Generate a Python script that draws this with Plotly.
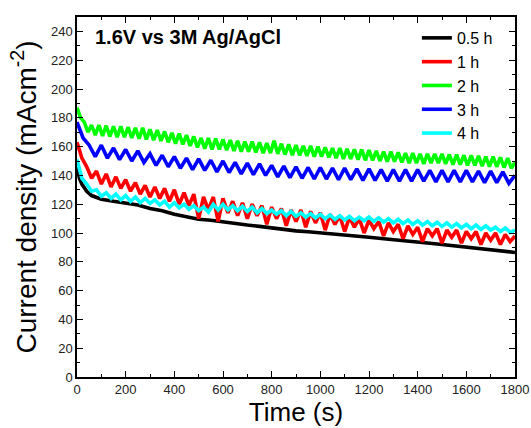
import plotly.graph_objects as go

# ---- data (time in s, current density in mA cm^-2) ----
t_black = [0, 10, 20, 40, 60, 80, 100, 150, 200, 250, 300, 350, 400, 450, 500, 550, 600,
           650, 700, 750, 800, 850, 900, 950, 1000, 1050, 1100, 1150, 1200, 1250, 1300,
           1350, 1400, 1450, 1500, 1550, 1600, 1650, 1700, 1750, 1800]
y_black = [146, 138, 134, 129, 126, 124.5, 123.5, 122, 120.5, 119.5, 117, 115.5, 113, 111.5,
           109.5, 108.8, 107.5, 106.8, 105.5, 104.6, 103.5, 102.7, 101.5, 100.9, 100, 99.2,
           98.5, 97.9, 97, 96.2, 95.5, 94.4, 93.5, 92.9, 92, 91.1, 90, 89.4, 88.5, 87.4, 86.5]

t_red = list(range(0, 1801, 20))
y_red = [163, 152, 146, 138, 143, 134, 141, 132, 139, 131, 137, 129, 135, 127, 133, 125,
         132, 124, 131, 122, 130, 120, 128, 119, 127, 110, 125, 116, 125, 108, 124, 114,
         122, 112, 121, 110, 120, 112, 119, 106, 118, 110, 117, 105, 116, 108, 116, 104,
         115, 107, 114, 102, 113, 106, 112, 101, 111, 104, 110, 100, 109, 103, 108, 98,
         107, 101, 106, 96, 105, 99, 104, 94, 103, 98, 103, 93, 102, 97, 102, 93,
         101, 96, 101, 92, 100, 95, 100, 92, 99, 94, 98]

t_green = list(range(0, 1801, 15))
y_green = [187, 180,
           177, 170, 175, 168, 175, 167.5, 174.5, 167, 174, 166.5, 174, 166.5,
           173.5, 166, 173, 165.5, 173, 165, 172, 164.5, 171.5, 164, 170.5, 163,
           169.5, 162, 169, 161.5, 168, 160.5, 167, 159.5, 166, 158.5, 166, 158,
           165.5, 158, 165, 157.5, 164.5, 157, 164, 156.5, 163.5, 156.5, 163.5, 156,
           163, 155.5, 162.5, 155.5, 164, 155, 162, 154.5, 161.5, 154, 161, 154,
           160.5, 153.5, 160.5, 153, 160, 153, 159.5, 152.5, 159, 152, 159, 151.5,
           158.5, 151.5, 158, 151, 158, 150.5, 157.5, 150.5, 157, 150, 156.5, 149.5,
           156.5, 149.5, 156, 149, 155.5, 148.5, 155.5, 148.5, 155, 148, 155, 148.5,
           155, 148.5, 155, 148, 154.5, 147.5, 154.5, 147.5, 154, 147, 154, 147,
           153.5, 146.5, 153, 146, 153, 146, 152.5, 145.5, 152, 145,
           149]

t_blue = list(range(0, 1801, 25))
y_blue = [177, 166, 161, 153, 161, 152, 159, 151, 158, 150, 157, 149, 155, 147, 154, 146,
          153, 145, 152, 144, 151.5, 143.5, 150.5, 142.5, 150, 142, 149, 141, 148.5, 140.5,
          148, 140, 147, 139, 146.5, 138.5, 146, 138, 145.5, 137.5, 145.5, 137.5, 145, 137,
          145, 137, 144.5, 136.5, 144.5, 136.5, 144, 136, 144, 136, 144, 136, 144, 136,
          143.5, 135.5, 143.5, 135.5, 143.5, 135.5, 143.5, 135.5, 143, 135, 143, 135,
          142.5, 134.5, 140]

t_cyan = list(range(0, 1801, 20))
y_cyan = [151, 138, 134, 129, 130, 125.5, 128, 124, 127, 123, 126, 122, 125, 121, 124, 120.5,
          123, 119.5, 122, 118, 121, 117.5, 120, 116.5, 119, 115.5, 118, 114.5, 120, 116,
          120, 116, 119, 115.5, 118.5, 115, 118, 114, 117, 113.5, 116, 113, 115.5, 112,
          115, 111.5, 114, 111, 113.5, 110.5, 113, 110, 112.5, 109.5, 112, 109, 111.5, 108.5,
          111, 108.5, 111, 108, 110.5, 107.5, 110, 107, 109.5, 106.5, 109, 106, 108.5, 105.5,
          108, 105, 107.5, 104.5, 107, 104, 106.5, 103.5, 106, 103, 105.5, 102.5, 105, 102,
          104, 101, 103.5, 100.5, 102]

series_names = ["0.5 h", "1 h", "2 h", "3 h", "4 h"]
series_t = [t_black, t_red, t_green, t_blue, t_cyan]
series_y = [y_black, y_red, y_green, y_blue, y_cyan]
series_colors = ["#000000", "#ff0000", "#00ff00", "#0000ff", "#00ffff"]

x_ticks = [0, 200, 400, 600, 800, 1000, 1200, 1400, 1600, 1800]
y_ticks = [0, 20, 40, 60, 80, 100, 120, 140, 160, 180, 200, 220, 240]

fig = go.Figure()
for name, tx, ty, col in zip(series_names, series_t, series_y, series_colors):
    fig.add_trace(go.Scatter(x=tx, y=ty, mode="lines", name=name,
                             line=dict(color=col, width=3.6)))

font_family = "Liberation Sans, Arial, Helvetica, sans-serif"
axis_common = dict(
    showgrid=False, zeroline=False, showline=True, linecolor="black", linewidth=1.5,
    mirror="allticks", ticks="inside", ticklen=6, tickwidth=1.2, tickcolor="black",
    tickfont=dict(family=font_family, size=13, color="#222222"),
    automargin=False,
)

fig.update_layout(
    width=531, height=428,
    margin=dict(l=77, r=16, t=17, b=51),
    paper_bgcolor="white", plot_bgcolor="white",
    font=dict(family=font_family, color="black"),
    showlegend=True,
    legend=dict(x=0.776, y=0.989, xanchor="left", yanchor="top",
                bgcolor="rgba(0,0,0,0)", font=dict(size=16, color="black"),
                tracegroupgap=0, itemwidth=30),
    annotations=[dict(text="<b>1.6V vs 3M Ag/AgCl</b>", xref="paper", yref="paper",
                      x=0.036, y=0.945, xanchor="left", yanchor="middle", showarrow=False,
                      font=dict(size=20, color="black", family=font_family))],
)

fig.update_xaxes(range=[0, 1800], tickvals=x_ticks,
                 minor=dict(ticks="inside", ticklen=3.5, dtick=100, tickcolor="black", tickwidth=1.2),
                 title=dict(text="Time (s)", font=dict(size=26, color="black"), standoff=2),
                 **axis_common)
fig.update_yaxes(range=[0, 250], tickvals=y_ticks,
                 minor=dict(ticks="inside", ticklen=3.5, dtick=10, tickcolor="black", tickwidth=1.2),
                 title=dict(text="Current density (mAcm<sup>-2</sup>)", font=dict(size=28, color="black"), standoff=6),
                 **axis_common)

fig.write_html("out.html", config={"displayModeBar": False},
               post_script="document.body.style.margin='0';document.body.style.overflow='hidden';")
